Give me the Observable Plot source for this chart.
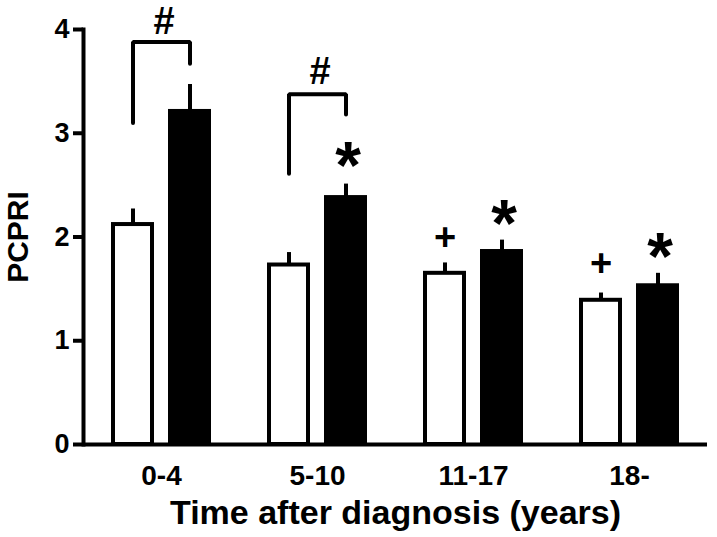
<!DOCTYPE html>
<html>
<head>
<meta charset="utf-8">
<script src="https://cdn.jsdelivr.net/npm/d3@7"></script>
<script src="https://cdn.jsdelivr.net/npm/@observablehq/plot@0.6"></script>
<style>
  body { margin: 0; background: #fff; }
  #chart svg { font-family: "Liberation Sans", Arial, sans-serif; }
</style>
</head>
<body>
<div id="chart"></div>
<script>
const groups = ["0-4", "5-10", "11-17", "18-"];
const series = ["open", "filled"];
const openMeans = [2.12, 1.73, 1.65, 1.39];
const openErrTop = [2.27, 1.85, 1.75, 1.46];
const filledMeans = [3.21, 2.38, 1.86, 1.53];
const filledErrTop = [3.47, 2.51, 1.97, 1.65];
const yTicks = [0, 1, 2, 3, 4];

// significance brackets (# markers)
const bracketGroups = ["0-4", "5-10"];
const bracketLeftBottom = [3.10, 2.61];
const bracketTop = [3.88, 3.375];
const bracketRightBottom = [3.67, 3.18];
const hashY = [4.08, 3.60];

// star markers over filled bars, plus markers over open bars
const starGroups = ["5-10", "11-17", "18-"];
const starY = [2.79, 2.23, 1.91];
const plusGroups = ["11-17", "18-"];
const plusY = [1.99, 1.74];

const bars = [];
groups.forEach((g, i) => {
  bars.push({group: g, series: "open", value: openMeans[i], err: openErrTop[i]});
  bars.push({group: g, series: "filled", value: filledMeans[i], err: filledErrTop[i]});
});
const openBars = bars.filter(d => d.series === "open");
const filledBars = bars.filter(d => d.series === "filled");

const bracketPts = [];
bracketGroups.forEach((g, i) => {
  bracketPts.push({id: g, group: g, series: "open", y: bracketLeftBottom[i]});
  bracketPts.push({id: g, group: g, series: "open", y: bracketTop[i]});
  bracketPts.push({id: g, group: g, series: "filled", y: bracketTop[i]});
  bracketPts.push({id: g, group: g, series: "filled", y: bracketRightBottom[i]});
});
const hashes = bracketGroups.map((g, i) => ({group: g, series: "open", y: hashY[i]}));
const stars = starGroups.map((g, i) => ({group: g, series: "filled", y: starY[i]}));
const pluses = plusGroups.map((g, i) => ({group: g, series: "open", y: plusY[i]}));

const chart = Plot.plot({
  width: 717,
  height: 537,
  marginTop: 29,
  marginBottom: 93,
  marginLeft: 82,
  marginRight: 9,
  style: {fontFamily: "'Liberation Sans', Arial, sans-serif", color: "black", background: "white"},
  fx: {domain: groups, padding: 0, label: null},
  x: {domain: series, paddingInner: 0.31, paddingOuter: 0.5, axis: null},
  y: {domain: [0, 4], label: null},
  marks: [
    Plot.barY(openBars, {fx: "group", x: "series", y: "value", fill: "white", stroke: "black", strokeWidth: 4}),
    Plot.barY(filledBars, {fx: "group", x: "series", y: "value", fill: "black", stroke: "black", strokeWidth: 4}),
    Plot.ruleX(bars, {fx: "group", x: "series", y1: "value", y2: "err", stroke: "black", strokeWidth: 4}),
    Plot.line(bracketPts, {fx: "group", x: "series", y: "y", z: "id", stroke: "black", strokeWidth: 4, strokeLinejoin: "miter", curve: "linear"}),
    Plot.text(hashes, {fx: "group", x: "series", y: "y", text: () => "#", fontSize: 38, fontWeight: "bold", dx: 31, dy: 1}),
    Plot.text(stars, {fx: "group", x: "series", y: "y", text: () => "*", fontSize: 66, fontWeight: "bold", dy: 12, dx: 2}),
    Plot.text(pluses, {fx: "group", x: "series", y: "y", text: () => "+", fontSize: 38, fontWeight: "bold"}),
    Plot.ruleY([0], {stroke: "black", strokeWidth: 4}),
    Plot.frame({anchor: "left", facetAnchor: "left", stroke: "black", strokeWidth: 4}),
    Plot.axisY({ticks: yTicks, tickFormat: d3.format("d"), tickSize: 10, tickPadding: 4, strokeWidth: 4,
      fontSize: 27, fontWeight: "bold", label: null}),
    Plot.axisY({ticks: [], label: "PCPRI", labelAnchor: "center", labelArrow: "none", labelOffset: 77,
      fontSize: 30, fontWeight: "bold"}),
    Plot.axisFx({anchor: "bottom", tickSize: 0, tickPadding: 21, fontSize: 28, fontWeight: "bold", label: null}),
    Plot.axisFx({anchor: "bottom", ticks: [], label: "Time after diagnosis (years)", labelAnchor: "center",
      labelArrow: "none", labelOffset: 79, fontSize: 34, fontWeight: "bold"})
  ]
});
document.getElementById("chart").appendChild(chart);
</script>
</body>
</html>
